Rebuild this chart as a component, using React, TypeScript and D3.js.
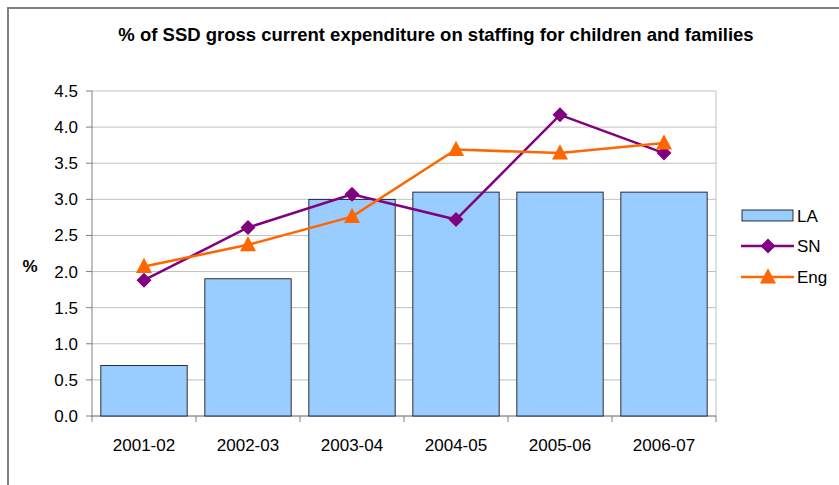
import React from "react";
import * as d3 from "d3";

const categories = ["2001-02", "2002-03", "2003-04", "2004-05", "2005-06", "2006-07"];
const laValues = [0.7, 1.9, 3.0, 3.1, 3.1, 3.1];
const snValues = [1.88, 2.61, 3.07, 2.72, 4.17, 3.64];
const engValues = [2.07, 2.37, 2.76, 3.69, 3.64, 3.78];
const yTicks = [0, 0.5, 1, 1.5, 2, 2.5, 3, 3.5, 4, 4.5];
const title = "% of SSD gross current expenditure on staffing for children and families";

const W = 839, H = 485;
const left = 92, right = 716, top = 91, bottom = 416;
const font = "Liberation Sans, Arial, sans-serif";
const fs = 17;

export default function App() {
  const x = d3.scaleBand<string>().domain(categories).range([left, right]).paddingInner(0.17).paddingOuter(0.085);
  const xc = d3.scaleBand<string>().domain(categories).range([left, right]);
  const y = d3.scaleLinear().domain([0, 4.5]).range([bottom, top]);
  const line = d3.line<number>().x((_, i) => (xc(categories[i]) as number) + xc.bandwidth() / 2).y((d) => y(d));
  const diamond = (cx: number, cy: number, r: number) => `M${cx},${cy - r}L${cx + r},${cy}L${cx},${cy + r}L${cx - r},${cy}Z`;
  const tri = (cx: number, cy: number, r: number) => `M${cx},${cy - r * 1.1}L${cx + r},${cy + r * 0.8}L${cx - r},${cy + r * 0.8}Z`;
  return (
    <svg width={W} height={H} style={{ position: "absolute", left: 0, top: 0 }} fontFamily={font}>
      <rect x={0} y={0} width={W} height={H} fill="#fff" />
      <rect x={8} y={8} width={W + 20} height={H + 20} fill="#fff" stroke="#808080" strokeWidth={2} />
      <text x={436} y={41} textAnchor="middle" fontSize={18.5} fontWeight="bold">{title}</text>
      {yTicks.map((t) => (
        <g key={t}>
          <line x1={left} x2={right} y1={y(t)} y2={y(t)} stroke="#c0c0c0" strokeWidth={1} />
          <line x1={left - 6} x2={left} y1={y(t)} y2={y(t)} stroke="#808080" />
          <text x={78} y={y(t)} dy="0.35em" textAnchor="end" fontSize={fs}>{t.toFixed(1)}</text>
        </g>
      ))}
      <line x1={right} x2={right} y1={top} y2={bottom} stroke="#c0c0c0" />
      <line x1={left} x2={left} y1={top} y2={bottom + 1} stroke="#808080" />
      <line x1={left} x2={right} y1={bottom} y2={bottom} stroke="#808080" />
      {categories.map((c, i) => (
        <g key={c}>
          <line x1={xc(c) as number} x2={xc(c) as number} y1={bottom} y2={bottom + 6} stroke="#808080" />
          {i === categories.length - 1 && (
            <line x1={right} x2={right} y1={bottom} y2={bottom + 6} stroke="#808080" />
          )}
          <text x={(xc(c) as number) + xc.bandwidth() / 2} y={451} textAnchor="middle" fontSize={fs}>{c}</text>
        </g>
      ))}
      {laValues.map((v, i) => (
        <rect key={i} x={x(categories[i])} y={y(v)} width={x.bandwidth()} height={bottom - y(v)} fill="#99ccff" stroke="#000" strokeWidth={0.8} />
      ))}
      <path d={line(snValues) as string} fill="none" stroke="#800080" strokeWidth={2.5} />
      <path d={line(engValues) as string} fill="none" stroke="#ff6600" strokeWidth={2.5} />
      {snValues.map((v, i) => (
        <path key={i} d={diamond((xc(categories[i]) as number) + xc.bandwidth() / 2, y(v), 7.5)} fill="#800080" />
      ))}
      {engValues.map((v, i) => (
        <path key={i} d={tri((xc(categories[i]) as number) + xc.bandwidth() / 2, y(v), 8)} fill="#ff6600" />
      ))}
      <text x={30} y={272} textAnchor="middle" fontSize={fs} fontWeight="bold">%</text>
      <rect x={742} y={210} width={51} height={11} fill="#99ccff" stroke="#000" strokeWidth={0.8} />
      <text x={797} y={216} dy="0.35em" fontSize={fs}>LA</text>
      <line x1={741} x2={794} y1={246} y2={246} stroke="#800080" strokeWidth={2.5} />
      <path d={diamond(768, 246, 7.5)} fill="#800080" />
      <text x={797} y={246} dy="0.35em" fontSize={fs}>SN</text>
      <line x1={741} x2={794} y1={277} y2={277} stroke="#ff6600" strokeWidth={2.5} />
      <path d={tri(768, 277, 8)} fill="#ff6600" />
      <text x={797} y={277} dy="0.35em" fontSize={fs}>Eng</text>
    </svg>
  );
}
